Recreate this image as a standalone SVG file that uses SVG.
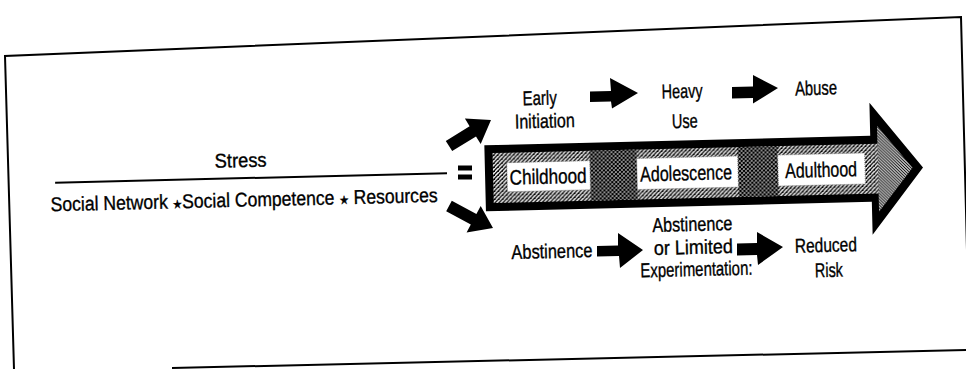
<svg xmlns="http://www.w3.org/2000/svg" width="966" height="369" viewBox="0 0 966 369">
<style>
text{font-family:"Liberation Sans",Arial,Helvetica,"DejaVu Sans",sans-serif;font-size:20px;fill:#000;stroke:#000;stroke-width:0.35;text-anchor:middle}
.lbl{font-size:21px}
.frame{fill:none;stroke:#000;stroke-width:2}
.arr{fill:#000}
.box{fill:#fff;stroke:#777;stroke-width:0.8;stroke-dasharray:1 1}
.star{font-family:"DejaVu Sans",sans-serif;font-size:12px}
</style>
<defs>
<pattern id="pLight" width="4" height="4" patternUnits="userSpaceOnUse">
<rect width="4" height="4" fill="#fff"/>
<path d="M0 4L4 0M-1 1L1 -1M3 5L5 3" stroke="#000" stroke-width="1.3"/>
<rect x="2" y="2" width="1" height="1" fill="#000"/>
</pattern>
<pattern id="pDark" width="4" height="4" patternUnits="userSpaceOnUse">
<rect width="4" height="4" fill="#fff"/>
<path d="M0 4L4 0M-1 1L1 -1M3 5L5 3M0 0L4 4M-1 3L1 5M3 -1L5 1" stroke="#000" stroke-width="1.4"/>
</pattern>
<pattern id="pHead" width="3" height="3" patternUnits="userSpaceOnUse">
<rect width="3" height="3" fill="#fff"/>
<path d="M0 0L3 3M-1 2L1 4M2 -1L4 1" stroke="#000" stroke-width="1.1"/>
</pattern>
</defs>
<rect width="966" height="369" fill="#fff"/>
<g id="frame">
<polyline class="frame" points="14,369 5,56 961,17 967,250"/>
<line class="frame" x1="172" y1="368" x2="967" y2="350"/>
</g>
<g id="nodes" transform="rotate(-1.4 700 170)">
<g id="node-ratio">
<text x="241" y="156" textLength="52" lengthAdjust="spacingAndGlyphs">Stress</text>
<line x1="55" y1="167" x2="447" y2="167" stroke="#000" stroke-width="2"/>
<text x="243.5" y="195.5" textLength="387" lengthAdjust="spacingAndGlyphs">Social Network <tspan class="star">★</tspan>Social Competence <tspan class="star">★</tspan> Resources</text>
</g>
<g id="node-lifespan">
<polygon fill="#000" points="485,140 871,140 871,107 923,173 871,239 871,206 485,206"/>
<rect x="493" y="148" width="386" height="50" fill="url(#pLight)"/>
<polygon fill="url(#pHead)" points="878,130 912.5,173 878,216"/>
<rect x="590" y="148" width="47" height="50" fill="url(#pDark)"/>
<rect x="738" y="148" width="40" height="50" fill="url(#pDark)"/>
<rect class="box" x="507" y="158" width="83" height="29"/>
<rect class="box" x="637" y="157" width="101" height="31"/>
<rect class="box" x="778" y="157" width="87" height="31"/>
<text class="lbl" x="548" y="180" textLength="77" lengthAdjust="spacingAndGlyphs">Childhood</text>
<text class="lbl" x="686" y="180" textLength="92" lengthAdjust="spacingAndGlyphs">Adolescence</text>
<text class="lbl" x="821" y="180" textLength="72" lengthAdjust="spacingAndGlyphs">Adulthood</text>
</g>
<g id="node-early">
<text x="541.5" y="101" textLength="34" lengthAdjust="spacingAndGlyphs">Early</text>
<text x="546" y="124" textLength="60" lengthAdjust="spacingAndGlyphs">Initiation</text>
</g>
<g id="node-heavy">
<text x="684" y="97.6" textLength="41" lengthAdjust="spacingAndGlyphs">Heavy</text>
<text x="686" y="127.6" textLength="26" lengthAdjust="spacingAndGlyphs">Use</text>
</g>
<g id="node-abuse">
<text x="818" y="97.8" textLength="42" lengthAdjust="spacingAndGlyphs">Abuse</text>
</g>
<g id="node-abstinence">
<text x="550" y="254.4" textLength="81" lengthAdjust="spacingAndGlyphs">Abstinence</text>
</g>
<g id="node-limited">
<text x="691" y="230.8" textLength="80" lengthAdjust="spacingAndGlyphs">Abstinence</text>
<text x="691.5" y="253.8" textLength="79" lengthAdjust="spacingAndGlyphs">or Limited</text>
<text x="694" y="275.9" textLength="112" lengthAdjust="spacingAndGlyphs">Experimentation:</text>
</g>
<g id="node-reduced">
<text x="824" y="255" textLength="62" lengthAdjust="spacingAndGlyphs">Reduced</text>
<text x="826.4" y="280" textLength="28" lengthAdjust="spacingAndGlyphs">Risk</text>
</g>
</g>
<g id="node-equals">
<rect x="458" y="165.5" width="14" height="5" fill="#000"/>
<rect x="458" y="174.5" width="14" height="5" fill="#000"/>
</g>
<g id="connectors">
<polygon class="arr" points="445.8,140.9 469.6,126.2 464.9,118.6 491,120 480.7,144.1 476,136.4 452.2,151.1"/>
<polygon class="arr" points="451.8,200.7 476.4,213.9 480.7,206 493,228 466.6,232.4 470.8,224.5 446.2,211.3"/>
<polygon class="arr" points="590,91.5 611,91 610,78 638,93 612,108.5 611,101.5 590,102"/>
<polygon class="arr" points="732,87 753,86.5 753,75 778,88 753,103.5 753,98 732,98.5"/>
<polygon class="arr" points="597,246 618,245.5 618,233 643,250 620,268 619,256 597,256.5"/>
<polygon class="arr" points="737,243.5 757,243 757,232 783,247 758,265 757,255 737,255.5"/>
</g>
</svg>
